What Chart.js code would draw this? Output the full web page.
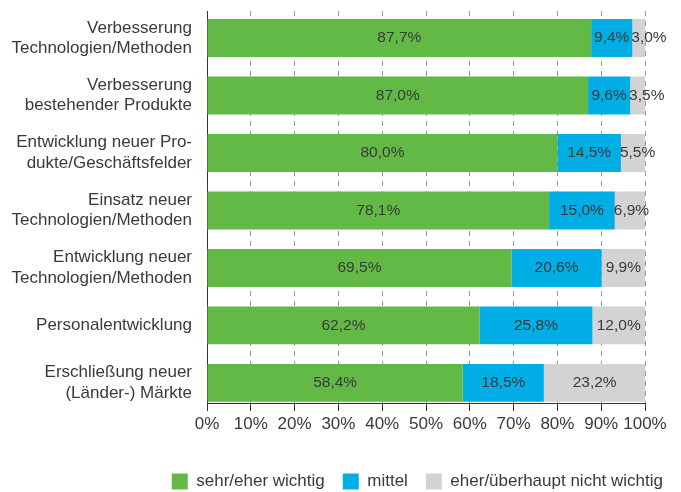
<!DOCTYPE html>
<html>
<head>
<meta charset="utf-8">
<script src="https://cdn.jsdelivr.net/npm/chart.js@4"></script>
<style>
  html, body { margin: 0; padding: 0; background: #fff; }
  #wrap { width: 681px; height: 492px; }
</style>
</head>
<body>
<div id="wrap"><canvas id="chart"></canvas></div>
<script>
// Bereiche (Zeilen von oben nach unten)
const categories = [
  ["Verbesserung", "Technologien/Methoden"],
  ["Verbesserung", "bestehender Produkte"],
  ["Entwicklung neuer Pro-", "dukte/Geschäftsfelder"],
  ["Einsatz neuer", "Technologien/Methoden"],
  ["Entwicklung neuer", "Technologien/Methoden"],
  ["Personalentwicklung"],
  ["Erschließung neuer", "(Länder-) Märkte"]
]

const seriesNames = ["sehr/eher wichtig", "mittel", "eher/überhaupt nicht wichtig"]
const wichtig = [87.7, 87.0, 80.0, 78.1, 69.5, 62.2, 58.4]
const mittel = [9.4, 9.6, 14.5, 15.0, 20.6, 25.8, 18.5]
const nichtWichtig = [3.0, 3.5, 5.5, 6.9, 9.9, 12.0, 23.2]
const xTicks = [0, 10, 20, 30, 40, 50, 60, 70, 80, 90, 100]

const colors = ["#62b946", "#00aee6", "#d3d3d5"]
const textColor = "#3a3a3a"

Chart.defaults.font.family = "'Liberation Sans', Arial, sans-serif"
Chart.defaults.color = textColor

const fmt = (v) => v.toFixed(1).replace(".", ",") + "%"

// Prozentwerte in die Balken schreiben
const barLabels = {
  id: "barLabels",
  afterDatasetsDraw(chart) {
    const ctx = chart.ctx
    ctx.save()
    ctx.font = "15.5px 'Liberation Sans', Arial, sans-serif"
    ctx.fillStyle = textColor
    ctx.textBaseline = "middle"
    chart.data.datasets.forEach((ds, di) => {
      const meta = chart.getDatasetMeta(di)
      meta.data.forEach((bar, i) => {
        const text = fmt(ds.data[i].x)
        const w = ctx.measureText(text).width
        const left = Math.min(bar.x, bar.base)
        const right = Math.max(bar.x, bar.base)
        if (w > right - left - 2) {
          ctx.textAlign = "left"
          ctx.fillText(text, left - 1, bar.y)
        } else {
          ctx.textAlign = "center"
          ctx.fillText(text, (left + right) / 2, bar.y)
        }
      })
    })
    ctx.restore()
  },
}

const toPoints = (arr) => arr.map((v, i) => ({ x: v, y: i }))

new Chart(document.getElementById("chart"), {
  type: "bar",
  data: {
    datasets: [wichtig, mittel, nichtWichtig].map((arr, i) => ({
      label: seriesNames[i],
      data: toPoints(arr),
      backgroundColor: colors[i],
      borderWidth: 0,
      categoryPercentage: 1,
      barPercentage: 0.66,
    })),
  },
  options: {
    indexAxis: "y",
    responsive: true,
    maintainAspectRatio: false,
    animation: false,
    layout: { padding: { top: 11, left: 0, right: 0, bottom: -8 } },
    plugins: {
      tooltip: { enabled: false },
      legend: {
        position: "bottom",
        align: "end",
        labels: {
          boxWidth: 16,
          boxHeight: 16,
          padding: 18,
          color: textColor,
          font: { size: 17 },
        },
      },
    },
    scales: {
      x: {
        type: "linear",
        stacked: true,
        min: 0,
        max: 100,
        afterBuildTicks: (s) => { s.ticks = xTicks.map((v) => ({ value: v })) },
        afterFit: (s) => { s.paddingRight = 36; s.height = 52 },
        ticks: {
          padding: 3,
          maxRotation: 0,
          minRotation: 0,
          color: textColor,
          font: { size: 17 },
          callback: (v) => v + "%",
        },
        grid: {
          color: "#9a9a9a",
          lineWidth: 1,
          drawTicks: true,
          tickLength: 8,
          tickColor: "#333",
          tickBorderDash: [],
        },
        border: { display: true, color: "#333", width: 1, dash: [5, 5] },
      },
      y: {
        type: "linear",
        stacked: true,
        reverse: true,
        offset: false,
        min: -0.47,
        max: 6.35,
        afterBuildTicks: (s) => { s.ticks = categories.map((c, i) => ({ value: i })) },
        afterFit: (s) => { s.width = 207; s.paddingTop = 0; s.paddingBottom = 0 },
        ticks: {
          autoSkip: false,
          padding: 15,
          color: textColor,
          font: { size: 17 },
          callback: (v) => categories[v],
        },
        grid: { display: false, drawTicks: false, offset: false },
        border: { display: true, color: "#333", width: 1 },
      },
    },
  },
  plugins: [barLabels],
})
</script>
</body>
</html>
